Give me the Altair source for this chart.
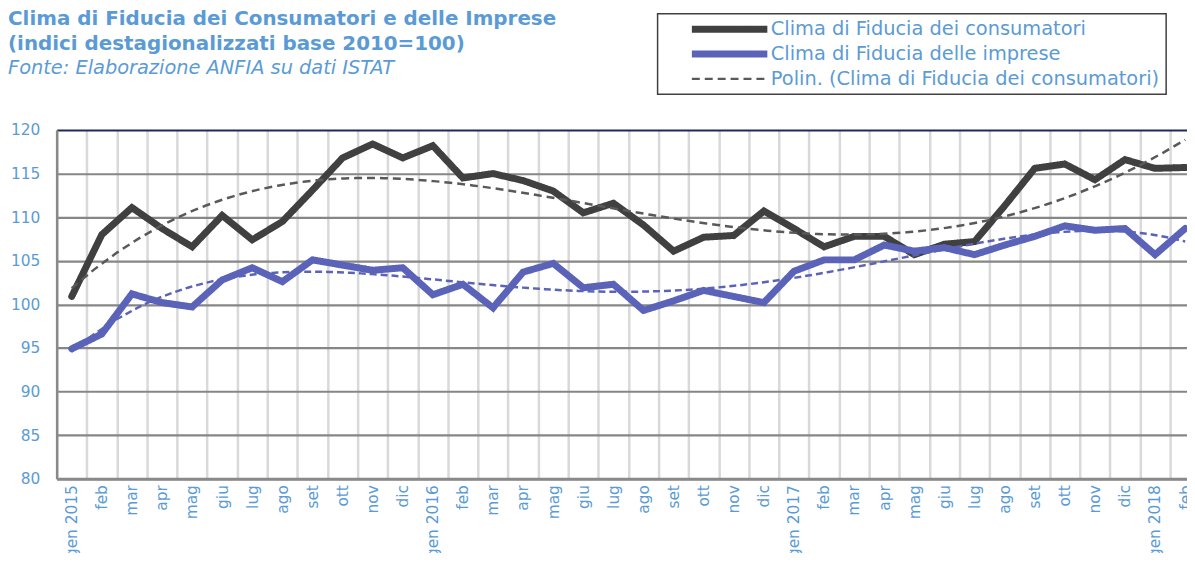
import altair as alt
import pandas as pd

mesi = ["gen 2015", "feb", "mar", "apr", "mag", "giu", "lug", "ago", "set", "ott", "nov", "dic",
        "gen 2016", "feb", "mar", "apr", "mag", "giu", "lug", "ago", "set", "ott", "nov", "dic",
        "gen 2017", "feb", "mar", "apr", "mag", "giu", "lug", "ago", "set", "ott", "nov", "dic",
        "gen 2018", "feb"]
consumatori = [100.9, 108.0, 111.1, 108.7, 106.6, 110.2, 107.4, 109.5, 113.1, 116.8, 118.4, 116.8,
               118.2, 114.5, 115.0, 114.2, 113.0, 110.5, 111.6, 109.1, 106.1, 107.7, 107.9, 110.7,
               108.7, 106.6, 107.8, 107.8, 105.7, 106.9, 107.2, 111.3, 115.6, 116.1, 114.3, 116.6,
               115.6, 115.7]
imprese = [94.9, 96.6, 101.2, 100.2, 99.7, 102.8, 104.2, 102.6, 105.1, 104.5, 103.9, 104.2,
           101.1, 102.3, 99.6, 103.7, 104.7, 101.9, 102.3, 99.3, 100.4, 101.6, 100.9, 100.2,
           103.8, 105.1, 105.1, 106.8, 106.1, 106.5, 105.7, 106.8, 107.8, 109.0, 108.5, 108.7,
           105.7, 108.7]
y_ticks = [80, 85, 90, 95, 100, 105, 110, 115, 120]

S_CONS = "Clima di Fiducia dei consumatori"
S_IMPR = "Clima di Fiducia delle imprese"
S_POLI = "Polin. (Clima di Fiducia dei consumatori)"
serie_dom = [S_CONS, S_IMPR, S_POLI]

FONT = "DejaVu Sans"
LBL = "#5B9BD5"
C_CONS = "#404040"
C_IMPR = "#5B63B8"
C_POLI = "#595959"

n = len(mesi)
idx = list(range(n))
wide = pd.DataFrame({"i": idx, "mese": mesi, "cons": consumatori, "impr": imprese})
long = pd.concat([
    pd.DataFrame({"i": idx, "serie": S_CONS, "valore": consumatori}),
    pd.DataFrame({"i": idx, "serie": S_IMPR, "valore": imprese}),
])

label_arr = "[" + ",".join("'" + m + "'" for m in mesi) + "]"

xscale = alt.Scale(domain=[-0.5, 37.06], nice=False, zero=False)
yscale = alt.Scale(domain=[80, 120], nice=False, zero=False)

color_s = alt.Scale(domain=serie_dom, range=[C_CONS, C_IMPR, C_POLI])
dash_s = alt.Scale(domain=serie_dom, range=[[1, 0], [1, 0], [8, 5]])
width_s = alt.Scale(type="ordinal", domain=serie_dom, range=[7, 7, 2.5])

x_axis = alt.Axis(
    values=[k - 0.5 for k in idx], tickCount=100, title=None,
    labelExpr=label_arr + "[round(datum.value + 0.5)]",
    labelAngle=-90, labelOffset=15, labelPadding=6, labelFlush=False,
    labelOverlap=False, labelBound=False, labelColor=LBL, labelFont=FONT,
    labelFontSize=15.5, ticks=False, grid=True, gridColor="#D9D9D9",
    gridWidth=2.5, domainColor="#898989", domainWidth=3,
)
y_axis = alt.Axis(
    values=y_ticks, format="d", title=None, labelColor=LBL, labelFont=FONT,
    labelFontSize=15.5, labelPadding=17, ticks=False, grid=True,
    gridColor={"condition": {"test": "datum.value == 120", "value": "#1F2A5C"}, "value": "#868686"},
    gridWidth=2.2, domainColor="#898989", domainWidth=2.5,
)

leg = alt.Legend(title=None, labelExpr="datum.label + '  '")

lines = alt.Chart(long).mark_line(strokeCap="round", strokeJoin="miter").encode(
    x=alt.X("i:Q", scale=xscale, axis=x_axis),
    y=alt.Y("valore:Q", scale=yscale, axis=y_axis),
    color=alt.Color("serie:N", scale=color_s, legend=leg),
    strokeDash=alt.StrokeDash("serie:N", scale=dash_s, legend=leg),
    strokeWidth=alt.StrokeWidth("serie:N", scale=width_s, legend=leg),
    order=alt.Order("i:Q"),
)

trend_cons = alt.Chart(wide).transform_regression(
    "i", "cons", method="poly", order=4, extent=[0, 37]
).transform_calculate(serie="'" + S_POLI + "'").mark_line(strokeCap="butt").encode(
    x=alt.X("i:Q", scale=xscale),
    y=alt.Y("cons:Q", scale=yscale),
    color=alt.Color("serie:N", scale=color_s, legend=leg),
    strokeDash=alt.StrokeDash("serie:N", scale=dash_s, legend=leg),
    strokeWidth=alt.StrokeWidth("serie:N", scale=width_s, legend=leg),
)

trend_impr = alt.Chart(wide).transform_regression(
    "i", "impr", method="poly", order=4, extent=[0, 37]
).mark_line(strokeCap="butt", color=C_IMPR, strokeDash=[7, 4], strokeWidth=2.5).encode(
    x=alt.X("i:Q", scale=xscale),
    y=alt.Y("impr:Q", scale=yscale),
)

chart = alt.layer(lines, trend_cons, trend_impr).properties(
    width=1138, height=351,
    autosize=alt.AutoSizeParams(type="none"),
    padding={"left": 49, "top": 121, "right": 0, "bottom": 73},
    title=alt.TitleParams(
        text=["Clima di Fiducia dei Consumatori e delle Imprese",
              "(indici destagionalizzati base 2010=100)"],
        subtitle="Fonte: Elaborazione ANFIA su dati ISTAT",
        anchor="start", frame="group", dx=-49, offset=-65,
        font=FONT, fontSize=20, fontWeight="bold", color=LBL, lineHeight=25,
        subtitleFont=FONT, subtitleFontSize=19.5, subtitleFontStyle="italic",
        subtitleColor=LBL, subtitlePadding=5,
    ),
).configure_view(stroke=None).configure_legend(
    orient="none", legendX=605, legendY=-117, direction="vertical",
    symbolType="stroke", symbolSize=5776, symbolOffset=25, padding=6,
    clipHeight=19, strokeColor="#404040", strokeWidth=1.5, labelFont=FONT,
    labelFontSize=19.5, labelLimit=1000, labelColor=LBL, labelOffset=0, rowPadding=5,
)

chart.save("out.html", embed_options={"renderer": "svg", "actions": False})
